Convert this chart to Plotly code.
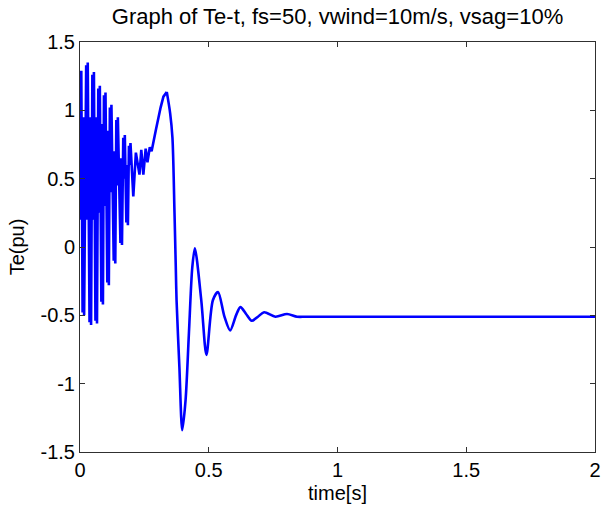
import plotly.graph_objects as go

# Electromagnetic torque Te (pu) versus time, read as turning points of the trace
time_s = [
    # fast transient after the sag (dense oscillation)
    0.000,
    0.001, 0.003, 0.005, 0.010, 0.013, 0.016,
    0.024, 0.027, 0.030, 0.037, 0.040, 0.043,
    0.048, 0.051, 0.054, 0.060, 0.063, 0.066,
    0.071, 0.074, 0.077, 0.083, 0.086, 0.089,
    0.093, 0.096, 0.099, 0.106, 0.109, 0.112,
    0.116, 0.119, 0.122, 0.131, 0.134, 0.137,
    0.141, 0.144, 0.147, 0.157, 0.160, 0.163,
    0.168, 0.171, 0.174, 0.180, 0.183, 0.186,
    0.190, 0.193, 0.196,
    0.207, 0.217, 0.231, 0.238, 0.246, 0.255, 0.262, 0.271, 0.278, 0.295,
    0.313, 0.324, 0.337,
    # damped swing and steady state
    0.350, 0.359, 0.367, 0.372, 0.375, 0.386, 0.397, 0.410, 0.423, 0.436,
    0.446, 0.471, 0.491, 0.516, 0.536, 0.561, 0.583, 0.606, 0.623, 0.645,
    0.667, 0.691, 0.715, 0.759, 0.804, 0.843, 0.881, 2.000,
]
te_pu = [
    0.35,
    1.27, 0.20, 1.29, -0.48, 0.95, -0.50,
    1.33, 0.20, 1.35, -0.55, 0.95, -0.57,
    1.26, 0.20, 1.28, -0.54, 0.95, -0.56,
    1.16, 0.25, 1.18, -0.40, 0.90, -0.42,
    1.11, 0.30, 1.13, -0.26, 0.85, -0.28,
    1.02, 0.40, 1.04, -0.10, 0.70, -0.12,
    0.93, 0.45, 0.95, 0.03, 0.65, 0.015,
    0.80, 0.50, 0.82, 0.18, 0.60, 0.16,
    0.74, 0.60, 0.76,
    0.37, 0.69, 0.53, 0.71, 0.53, 0.72, 0.62, 0.73, 0.70, 0.86,
    1.02, 1.10, 1.135,
    0.98, 0.80, 0.25, -0.15, -0.39, -0.88, -1.34, -1.12, -0.63, -0.15,
    -0.01, -0.39, -0.79, -0.39, -0.33, -0.51, -0.61, -0.50, -0.44, -0.49,
    -0.54, -0.51, -0.477, -0.51, -0.49, -0.51, -0.51, -0.51,
]
# index of the post-fault torque peak: fast transient before, damped swing after
peak_index = 64

x_ticks = [0, 0.5, 1, 1.5, 2]
x_tick_text = ["0", "0.5", "1", "1.5", "2"]
y_ticks = [-1.5, -1, -0.5, 0, 0.5, 1, 1.5]
y_tick_text = ["-1.5", "-1", "-0.5", "0", "0.5", "1", "1.5"]

font_family = "Liberation Sans, Arial, sans-serif"
line_color = "#0000ff"
line_width = 2.6

fig = go.Figure()
# fast electrical transient drawn as a straight polyline
fig.add_trace(
    go.Scatter(
        x=time_s[: peak_index + 1],
        y=te_pu[: peak_index + 1],
        mode="lines",
        line=dict(color=line_color, width=line_width, simplify=False),
        showlegend=False,
    )
)
# damped mechanical swing and steady state drawn smooth
fig.add_trace(
    go.Scatter(
        x=time_s[peak_index:],
        y=te_pu[peak_index:],
        mode="lines",
        line=dict(color=line_color, width=line_width, shape="spline", smoothing=0.8, simplify=False),
        showlegend=False,
    )
)

axis_common = dict(
    showline=True,
    linecolor="#303030",
    linewidth=1,
    mirror="ticks",
    ticks="inside",
    ticklen=5,
    tickwidth=1,
    tickcolor="#303030",
    showgrid=False,
    zeroline=False,
    tickfont=dict(family=font_family, size=20, color="#000000"),
)

fig.update_xaxes(
    range=[0, 2],
    tickmode="array",
    tickvals=x_ticks,
    ticktext=x_tick_text,
    title=dict(text="time[s]", font=dict(family=font_family, size=20, color="#000000"), standoff=5),
    **axis_common,
)
fig.update_yaxes(
    range=[-1.5, 1.5],
    tickmode="array",
    tickvals=y_ticks,
    ticktext=y_tick_text,
    title=dict(text="Te(pu)", font=dict(family=font_family, size=20, color="#000000"), standoff=10),
    **axis_common,
)

fig.update_layout(
    width=609,
    height=511,
    margin=dict(l=80, r=8, t=42, b=59),
    paper_bgcolor="#ffffff",
    plot_bgcolor="#ffffff",
    title=dict(
        text="Graph of Te-t, fs=50, vwind=10m/s, vsag=10%",
        font=dict(family=font_family, size=22, color="#000000"),
        x=0.5,
        xref="paper",
        xanchor="center",
        y=1 - 16 / 511,
        yref="container",
        yanchor="middle",
    ),
)

fig.write_html("out.html")
